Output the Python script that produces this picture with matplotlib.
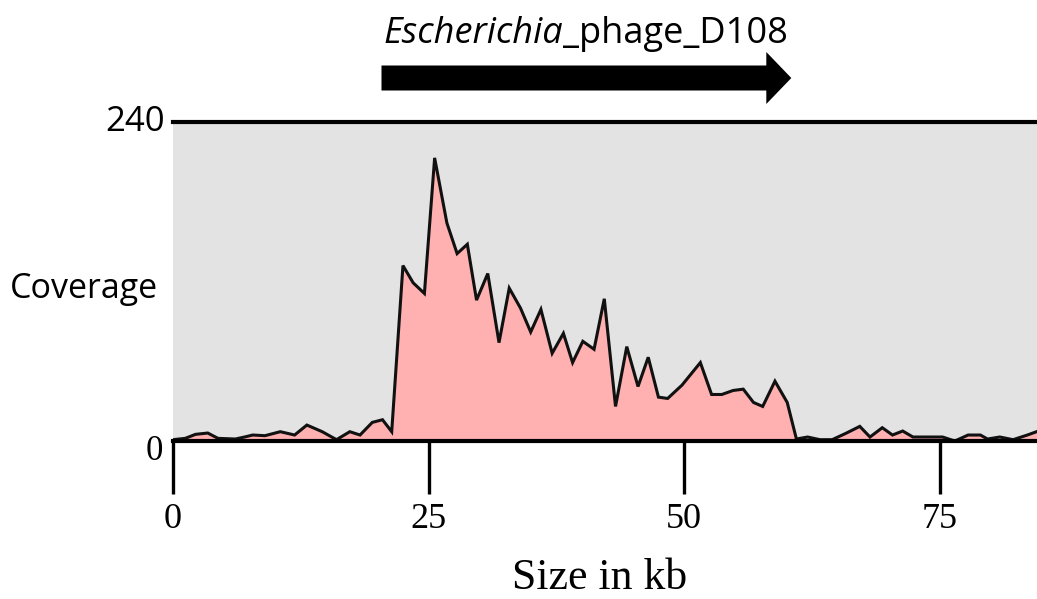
import matplotlib
matplotlib.use("Agg")
import matplotlib.pyplot as plt
from matplotlib.patches import Polygon
import matplotlib.transforms as mtransforms

# ---- data ----
position_kb = [0.0, 1.2, 2.2, 3.4, 4.4, 6.1, 7.0, 7.8, 9.0, 10.5, 11.9, 13.1, 14.6, 16.0,
               17.3, 18.3, 19.5, 20.5, 21.4, 22.5, 23.5, 24.6, 25.6, 26.8, 27.8, 28.8,
               29.7, 30.8, 31.9, 32.9, 34.0, 35.0, 36.0, 37.1, 38.2, 39.1, 40.1, 41.2,
               42.2, 43.3, 44.4, 45.5, 46.5, 47.5, 48.4, 49.8, 51.6, 52.7, 53.7, 54.8,
               55.8, 56.8, 57.7, 58.9, 60.1, 61.0, 62.1, 63.3, 64.5, 65.9, 67.2, 68.2,
               69.4, 70.4, 71.4, 72.4, 73.8, 75.3, 76.5, 77.8, 79.0, 79.7, 80.9, 82.2,
               83.6, 84.5]
coverage = [1, 2, 5, 6, 2, 1.5, 3, 4.5, 4, 7, 4.5, 12, 7, 1,
            7, 4.5, 14, 16, 7, 132, 119, 111, 213, 164, 141, 148,
            106, 126, 74, 115, 100, 82, 99, 66, 81, 59, 75, 69,
            107, 26, 71, 41, 63, 33, 32, 42, 59, 35, 35, 38,
            39, 29, 26, 45, 29, 1.5, 3, 1, 1, 6, 11, 3,
            10, 4.5, 7.5, 3, 3, 3, 0, 4.5, 4.5, 1.5, 3, 1,
            4.5, 7]
x_ticks = [0, 25, 50, 75]
y_max = 240
x_max = 84.54
phage_name_italic = "Escherichia"
phage_name_rest = "_phage_D108"
phage_start_kb = 20.4
phage_end_kb = 60.5

W, H = 1037, 599
fig = plt.figure(figsize=(W / 100, H / 100), dpi=100)
fig.patch.set_facecolor("white")

ax_l, ax_r, ax_t, ax_b = 173, 1037, 122, 441
ax = fig.add_axes([ax_l / W, (H - ax_b) / H, (ax_r - ax_l) / W, (ax_b - ax_t) / H])
ax.set_facecolor("#e3e3e3")

ax.fill_between(position_kb, coverage, 0, color="#ffb0b0", linewidth=0, zorder=2)
ax.plot(position_kb, coverage, color="#111111", linewidth=2.2, zorder=3,
        solid_joinstyle="miter")

ax.set_xlim(0, x_max)
ax.set_ylim(0, y_max)

for s in ["left", "right"]:
    ax.spines[s].set_visible(False)
ax.spines["top"].set_linewidth(3)
ax.spines["bottom"].set_linewidth(3)
ax.spines["top"].set_zorder(5)
ax.spines["bottom"].set_zorder(5)

ax.set_xticks(x_ticks)
ax.set_xticklabels([str(t) for t in x_ticks], family="Liberation Serif", fontsize=26)
ax.tick_params(axis="x", direction="out", length=38, width=2.4, pad=7, color="black")
ax.set_yticks([])

# y-axis labels
ax.text(-8 / 864, 1.0, str(y_max), transform=ax.transAxes, ha="right", va="center",
        family="Open Sans", fontsize=25)
ax.text(-10 / 864, -10 / 319, "0", transform=ax.transAxes, ha="right", va="center",
        family="Liberation Serif", fontsize=25)
fig.text(10 / W, 1 - 298 / H, "Coverage", ha="left", va="baseline",
         family="Open Sans", fontsize=24.5)

# x label
ax.set_xlabel("Size in kb", family="Liberation Serif", fontsize=31.5)
ax.xaxis.set_label_coords((600 - ax_l) / (ax_r - ax_l), (ax_b - 589) / (ax_b - ax_t))
ax.xaxis.label.set_va("baseline")

# phage arrow (x in data, y in axes fraction)
trans = mtransforms.blended_transform_factory(ax.transData, ax.transAxes)
yc = (ax_b - 78) / (ax_b - ax_t)
bh = 12.5 / (ax_b - ax_t)
hh = 26 / (ax_b - ax_t)
hl = 25 / ((ax_r - ax_l) / x_max)
verts = [(phage_start_kb, yc - bh), (phage_end_kb - hl, yc - bh), (phage_end_kb - hl, yc - hh),
         (phage_end_kb, yc), (phage_end_kb - hl, yc + hh), (phage_end_kb - hl, yc + bh),
         (phage_start_kb, yc + bh)]
ax.add_patch(Polygon(verts, closed=True, facecolor="black", edgecolor="none",
                     transform=trans, clip_on=False))

# phage name
ty = (ax_b - 43) / (ax_b - ax_t)
t1 = ax.text(phage_start_kb + 0.2, ty, phage_name_italic, transform=trans, ha="left",
             va="baseline", family="Open Sans", style="italic", fontsize=26)
ax.annotate(phage_name_rest, xy=(1, 0), xycoords=t1, ha="left", va="bottom",
            family="Open Sans", fontsize=26, annotation_clip=False)

fig.savefig("out.png", dpi=100)
